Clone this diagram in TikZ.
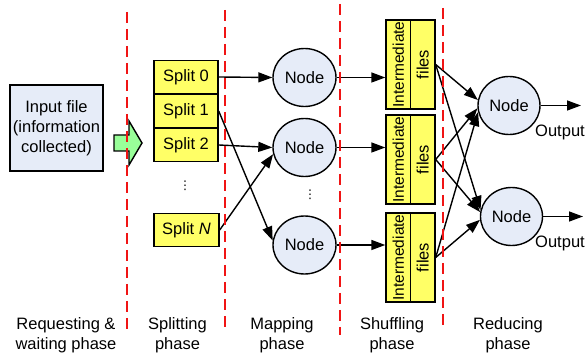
\documentclass[tikz,border=0pt]{standalone}
\usepackage{fontspec}
\setmainfont{Liberation Sans}
\newfontfamily\symfont{DejaVu Sans}
\usetikzlibrary{arrows.meta,shapes.geometric,calc}
\definecolor{splitfill}{RGB}{255,255,102}
\definecolor{nodefill}{RGB}{230,236,248}
\definecolor{arrowgreen}{RGB}{153,255,153}
\definecolor{phasered}{RGB}{240,20,20}
\begin{document}
\begin{tikzpicture}[x=1pt,y=-1pt,
  font=\fontsize{16.5}{20}\selectfont,
  inputbox/.style={draw=black, line width=1.4pt, fill=nodefill, minimum width=93pt, minimum height=86pt, inner sep=0pt, align=center},
  splitbox/.style={draw=black, line width=1.4pt, fill=splitfill, minimum width=64pt, minimum height=33.5pt, inner sep=0pt},
  worker/.style={ellipse, draw=black, line width=1.4pt, fill=nodefill, minimum width=63pt, minimum height=58pt, inner sep=0pt},
  halfbox/.style={draw=black, line width=1.4pt, fill=splitfill, minimum width=24.5pt, minimum height=89pt, inner sep=0pt},
  flow/.style={line width=1.4pt, -{Triangle[length=14pt,width=10pt]}},
  phaseline/.style={draw=phasered, line width=1.5pt, dash pattern=on 11pt off 6pt},
  phaselabel/.style={align=center, inner sep=0pt},
  dotsnode/.style={font=\fontsize{12}{14}\symfont, inner sep=0pt}
]
\useasboundingbox (0,0) rectangle (587,358);

% input
\node[inputbox] (input) at (56.5,128) {Input file\\(information\\collected)};

% green block arrow
\draw[line width=1.4pt, fill=arrowgreen, line join=miter]
  (114,135) -- (129,135) -- (129,121) -- (142,143) -- (129,165) -- (129,151) -- (114,151) -- cycle;

% splits
\node[splitbox] (s0) at (186,77) {Split 0};
\node[splitbox] (s1) at (186,111) {Split 1};
\node[splitbox] (s2) at (186,145) {Split 2};
\node[splitbox, minimum width=65pt] (sN) at (186.5,230) {Split \textit{N}};
\node[dotsnode] (sdots) at (185,186) {⋮};

% mapping nodes
\node[worker] (m1) at (304.5,77.5) {Node};
\node[worker] (m2) at (304.5,147.5) {Node};
\node[worker] (m3) at (304.5,245) {Node};
\node[dotsnode] (mdots) at (310,195) {⋮};

% intermediate files
\foreach \i/\y in {1/64.5,2/159.5,3/257.5}{
  \node[halfbox] (b\i l) at (398.25,\y) {\fontsize{15.5}{18}\selectfont\rotatebox{90}{Intermediate}};
  \node[halfbox] (b\i r) at (422.75,\y) {\rotatebox{90}{files}};
}

% reducing nodes
\node[worker, minimum width=62pt] (r1) at (509,105.5) {Node};
\node[worker, minimum width=62pt] (r2) at (511.5,216.5) {Node};

\coordinate (o1) at (581,105.5);
\coordinate (o2) at (583,216.5);
\node[inner sep=0pt] (out1) at (560,132) {Output};
\node[inner sep=0pt] (out2) at (560,243) {Output};

% splitting -> mapping
\draw[flow] (s0.east) -- (m1.west);
\draw[flow] (s2.east) -- (m2.west);
\draw[flow] (s1.east) -- (m3.172);
\draw[flow] (sN.east) -- (m2.192);

% mapping -> shuffling
\draw[flow] (m1.east) -- (m1.east -| b1l.west);
\draw[flow] (m2.east) -- (m2.east -| b2l.west);
\draw[flow] (m3.east) -- (m3.east -| b3l.west);

% shuffling -> reducing
\draw[flow] (b1r.east) -- (r1.170);
\draw[flow] (b2r.east) -- (r1.185);
\draw[flow] (b3r.east) -- (r1.192);
\draw[flow] (b1r.east) -- (r2.168);
\draw[flow] (b2r.east) -- (r2.172);
\draw[flow] (b3r.east) -- (r2.186);

% outputs
\draw[flow] (r1.east) -- (o1);
\draw[flow] (r2.east) -- (o2);

% phase separators
\draw[phaseline] (127,12) -- (127,333);
\draw[phaseline] (225,10) -- (225,332);
\draw[phaseline] (340,4) -- (340,335);
\draw[phaseline] (443,8) -- (443,328);

% phase labels
\node[phaselabel] (p1) at (66,335) {Requesting \&\\waiting phase};
\node[phaselabel] (p2) at (177.5,335) {Splitting\\phase};
\node[phaselabel] (p3) at (282,335) {Mapping\\phase};
\node[phaselabel] (p4) at (392,335) {Shuffling\\phase};
\node[phaselabel] (p5) at (508,335) {Reducing\\phase};
\end{tikzpicture}
\end{document}
